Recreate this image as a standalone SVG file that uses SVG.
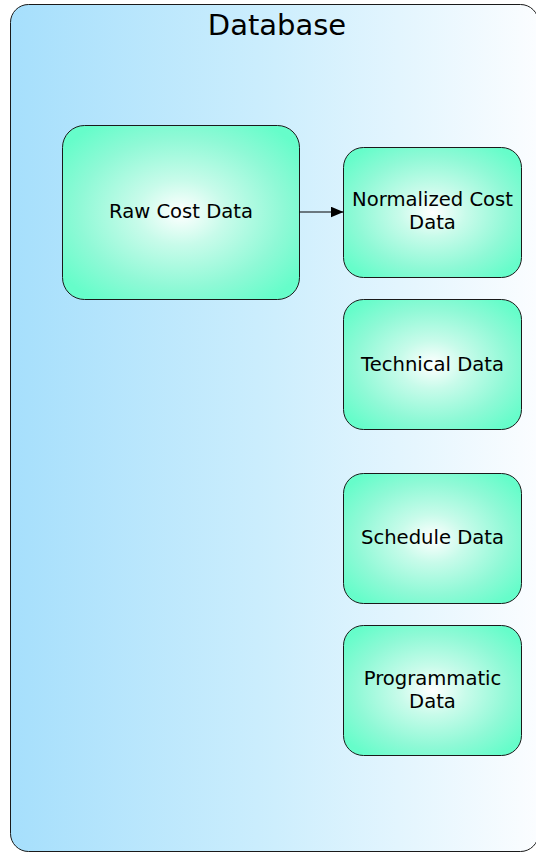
<svg xmlns="http://www.w3.org/2000/svg" width="536" height="852" viewBox="0 0 536 852">
  <style>
    .box { stroke: #1a1a1a; stroke-width: 1; fill: url(#nodeFill); }
    .lbl { font-family: "DejaVu Sans", Verdana, sans-serif; font-size: 19.6px; fill: #000; text-anchor: middle; }
    .title { font-family: "DejaVu Sans", Verdana, sans-serif; font-size: 29px; fill: #000; text-anchor: middle; }
    .edge { stroke: #000; stroke-width: 1; fill: none; }
  </style>
  <defs>
    <linearGradient id="dbFill" x1="0" y1="0" x2="1" y2="0">
      <stop offset="0" stop-color="#a6dffc"/>
      <stop offset="0.5" stop-color="#cdeefd"/>
      <stop offset="1" stop-color="#fbfdff"/>
    </linearGradient>
    <radialGradient id="nodeFill" cx="0.5" cy="0.5" r="0.62">
      <stop offset="0" stop-color="#ffffff"/>
      <stop offset="0.3" stop-color="#c8fbea"/>
      <stop offset="0.7" stop-color="#8ff9d6"/>
      <stop offset="1" stop-color="#66fdca"/>
    </radialGradient>
    <marker id="arrow" viewBox="0 0 13 11" refX="13" refY="5.5" markerWidth="13" markerHeight="11" markerUnits="userSpaceOnUse" orient="auto">
      <path d="M0,0 L13,5.5 L0,11 z" fill="#000"/>
    </marker>
  </defs>

  <g id="database">
    <rect x="10.5" y="4.5" width="528" height="847" rx="18" fill="url(#dbFill)" stroke="#1a1a1a" stroke-width="1"/>
    <text class="title" x="277" y="35">Database</text>
  </g>

  <g id="raw-cost-data">
    <rect class="box" x="62.5" y="125.5" width="237" height="174" rx="22"/>
    <text class="lbl" x="181" y="218">Raw Cost Data</text>
  </g>

  <g id="normalized-cost-data">
    <rect class="box" x="343.5" y="147.5" width="178" height="130" rx="20"/>
    <text class="lbl" x="432.5" y="206">Normalized Cost</text>
    <text class="lbl" x="432.5" y="229">Data</text>
  </g>

  <g id="technical-data">
    <rect class="box" x="343.5" y="299.5" width="178" height="130" rx="20"/>
    <text class="lbl" x="432.5" y="371">Technical Data</text>
  </g>

  <g id="schedule-data">
    <rect class="box" x="343.5" y="473.5" width="178" height="130" rx="20"/>
    <text class="lbl" x="432.5" y="544">Schedule Data</text>
  </g>

  <g id="programmatic-data">
    <rect class="box" x="343.5" y="625.5" width="178" height="130" rx="20"/>
    <text class="lbl" x="432.5" y="685">Programmatic</text>
    <text class="lbl" x="432.5" y="708">Data</text>
  </g>

  <g id="connectors">
    <line class="edge" x1="299.5" y1="212" x2="343.5" y2="212" marker-end="url(#arrow)"/>
  </g>
</svg>
